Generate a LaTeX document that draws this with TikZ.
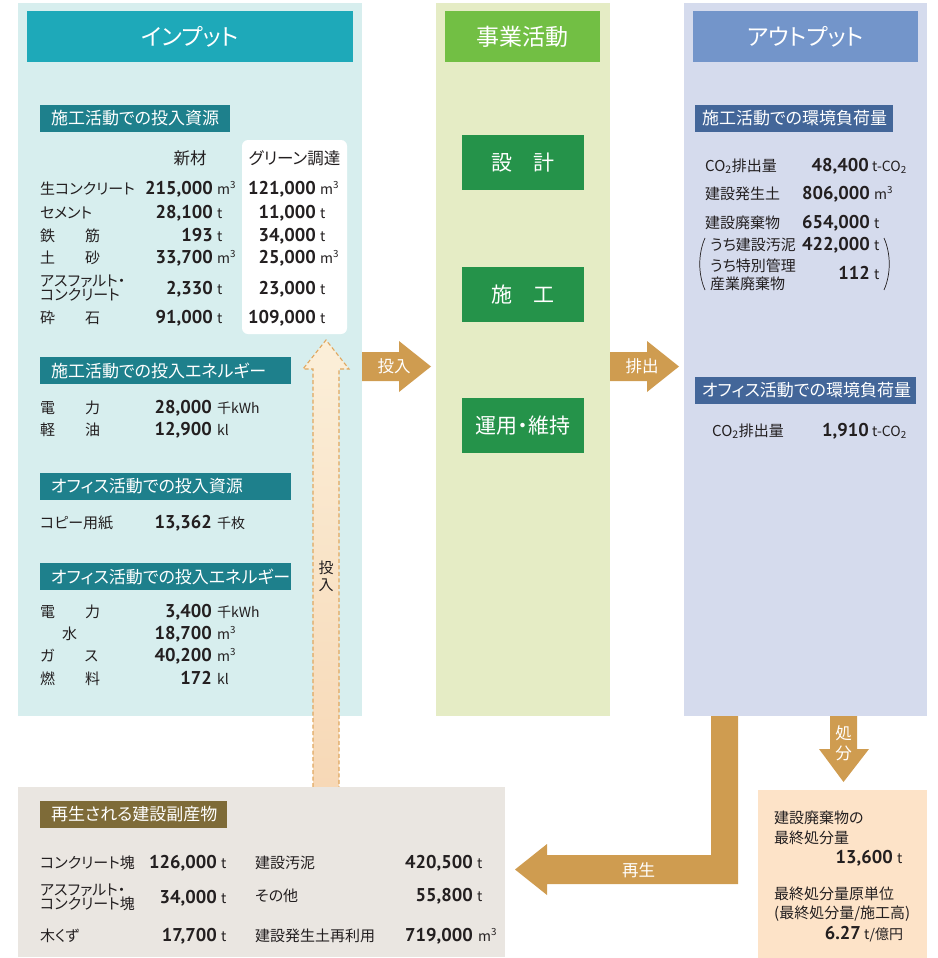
\documentclass[tikz,border=0pt]{standalone}
\usepackage{fontspec}
\setmainfont{Noto Sans CJK JP}[RawFeature=+palt]
\newfontfamily\numfont{PT Sans}
\definecolor{cInBg}{HTML}{D7EEEE}
\definecolor{cInHead}{HTML}{1EA9B9}
\definecolor{cInTag}{HTML}{1E808C}
\definecolor{cMidBg}{HTML}{E5ECC5}
\definecolor{cMidHead}{HTML}{72BF44}
\definecolor{cMidBox}{HTML}{25934A}
\definecolor{cOutBg}{HTML}{D5DBED}
\definecolor{cOutHead}{HTML}{7395CA}
\definecolor{cOutTag}{HTML}{436699}
\definecolor{cArrow}{HTML}{CF9C50}
\definecolor{cByBg}{HTML}{EAE6E1}
\definecolor{cByTag}{HTML}{7E6B38}
\definecolor{cFinal}{HTML}{FDE3C8}
\definecolor{cDash}{HTML}{E0A75F}
\definecolor{cDashTop}{HTML}{FBEFD9}
\definecolor{cDashBot}{HTML}{F7D8B6}
\definecolor{cText}{HTML}{231F20}
\begin{document}
\begin{tikzpicture}[x=1pt,y=-1pt]
    \tikzstyle{panel}=[inner sep=0pt, outer sep=0pt]
    \tikzstyle{head}=[panel, minimum height=51pt, text=white, font=\fontsize{23}{25}\selectfont]
    \tikzstyle{tag}=[panel, anchor=west, minimum height=27pt, inner xsep=11pt, align=left, text=white, font=\fontsize{17}{19}\selectfont]
    \tikzstyle{work}=[panel, fill=cMidBox, minimum width=122pt, minimum height=55pt, text=white, font=\fontsize{21}{23}\selectfont]
    \tikzstyle{lab}=[inner sep=0pt, anchor=base west, text=cText, font=\fontsize{15}{14}\selectfont]
    \tikzstyle{num}=[inner sep=0pt, anchor=base east, text=cText, font=\numfont\fontsize{18.5}{20}\selectfont\bfseries]
    \tikzstyle{unit}=[inner sep=0pt, anchor=base west, text=cText, font=\fontsize{14}{14}\selectfont]
    \tikzstyle{barrow}=[fill=cArrow]
    \tikzstyle{alab}=[inner sep=0pt, text=white, font=\fontsize{16.5}{20}\selectfont, align=center]
    \useasboundingbox (0,0) rectangle (937,958);

    % panels
    \node[panel, fill=cInBg, minimum width=344pt, minimum height=713pt] (input) at (190,359.5) {};
    \node[panel, fill=cMidBg, minimum width=174pt, minimum height=713pt] (business) at (523,359.5) {};
    \node[panel, fill=cOutBg, minimum width=243pt, minimum height=713pt] (output) at (805.5,359.5) {};
    \node[head, fill=cInHead, minimum width=326pt] (inhead) at (190,36.5) {インプット};
    \node[head, fill=cMidHead, minimum width=155pt] (midhead) at (522.5,36.5) {事業活動};
    \node[head, fill=cOutHead, minimum width=225pt] (outhead) at (805.5,36.5) {アウトプット};

    % arrows
    \fill[barrow] (362,352) -- (399,352) -- (399,341) -- (431,366.5) -- (399,392) -- (399,381) -- (362,381) -- cycle;
    \fill[barrow] (610,352) -- (647,352) -- (647,341) -- (679,366.5) -- (647,392) -- (647,381) -- (610,381) -- cycle;
    \fill[barrow] (830,716) -- (857,716) -- (857,749) -- (869,749) -- (843.5,782) -- (819,749) -- (830,749) -- cycle;
    \fill[barrow] (711,716) -- (738,716) -- (738,884) -- (547,884) -- (547,895) -- (515,869.5) -- (547,844) -- (547,855) -- (711,855) -- cycle;
    \draw[cDash, line width=1.1pt, dash pattern=on 4pt off 2.5pt, top color=cDashTop, bottom color=cDashBot]
      (313,787) -- (313,369) -- (303,369) -- (326,340) -- (349,369) -- (339,369) -- (339,787);
    \node[alab] (inlab) at (394,366.5) {投入};
    \node[alab] (outlab) at (642,366.5) {排出};
    \node[alab] (displab) at (843.5,743) {処\\分};
    \node[alab] (recylab) at (638.5,870) {再生};
    \node[alab, text=cText, font=\fontsize{15}{16.5}\selectfont] (backlab) at (326,576.5) {投\\入};

    % business
    \node[work] (design) at (523,162.5) {設\hspace{1em}計};
    \node[work] (build) at (523,294.5) {施\hspace{1em}工};
    \node[work] (operate) at (523,425.5) {運用・維持};

    % input
    \node[tag, fill=cInTag, text width=168pt] (inres) at (40,118.5) {施工活動での投入資源};
    \node[panel, fill=white, rounded corners=6pt, minimum width=105pt, minimum height=194pt] (green) at (294.5,237) {};
    \node[lab, anchor=base, font=\fontsize{16.5}{16}\selectfont] (hnew) at (190,164) {新材};
    \node[lab, anchor=base, font=\fontsize{16.5}{16}\selectfont] (hgreen) at (294.5,164) {グリーン調達};
    \node[lab] (lconc) at (40,194) {生コンクリート};
    \node[num] (nconc) at (213,194) {215,000};
    \node[unit] (unconc) at (217,194) {m\textsuperscript{3}};
    \node[num] (gconc) at (316,194) {121,000};
    \node[unit] (ugconc) at (320,194) {m\textsuperscript{3}};
    \node[lab] (lcem) at (40,218) {セメント};
    \node[num] (ncem) at (213,218) {28,100};
    \node[unit] (uncem) at (217,218) {t};
    \node[num] (gcem) at (316,218) {11,000};
    \node[unit] (ugcem) at (320,218) {t};
    \node[lab] (lsteel) at (40,241) {鉄\hspace{30pt}筋};
    \node[num] (nsteel) at (213,241) {193};
    \node[unit] (unsteel) at (217,241) {t};
    \node[num] (gsteel) at (316,241) {34,000};
    \node[unit] (ugsteel) at (320,241) {t};
    \node[lab] (lsoil) at (40,263) {土\hspace{30pt}砂};
    \node[num] (nsoil) at (213,263) {33,700};
    \node[unit] (unsoil) at (217,263) {m\textsuperscript{3}};
    \node[num] (gsoil) at (316,263) {25,000};
    \node[unit] (ugsoil) at (320,263) {m\textsuperscript{3}};
    \node[lab, anchor=west, align=left] (lasph) at (40,288.5) {アスファルト・\\コンクリート};
    \node[num] (nasph) at (213,294) {2,330};
    \node[unit] (unasph) at (217,294) {t};
    \node[num] (gasph) at (316,294) {23,000};
    \node[unit] (ugasph) at (320,294) {t};
    \node[lab] (lstone) at (40,323) {砕\hspace{30pt}石};
    \node[num] (nstone) at (213,323) {91,000};
    \node[unit] (unstone) at (217,323) {t};
    \node[num] (gstone) at (316,323) {109,000};
    \node[unit] (ugstone) at (320,323) {t};

    \node[tag, fill=cInTag, text width=229pt] (inene) at (40,370.5) {施工活動での投入エネルギー};
    \node[lab] (lpow) at (40,413) {電\hspace{30pt}力};
    \node[num] (npow) at (212,413) {28,000};
    \node[unit] (upow) at (217,413) {千kWh};
    \node[lab] (loil) at (40,435) {軽\hspace{30pt}油};
    \node[num] (noil) at (212,435) {12,900};
    \node[unit] (uoil) at (217,435) {kl};

    \node[tag, fill=cInTag, text width=229pt] (offres) at (40,486.5) {オフィス活動での投入資源};
    \node[lab] (lpaper) at (40,528) {コピー用紙};
    \node[num] (npaper) at (212,528) {13,362};
    \node[unit] (upaper) at (217,528) {千枚};

    \node[tag, fill=cInTag, text width=229pt] (offene) at (40,576.5) {オフィス活動での投入エネルギー};
    \node[lab] (lopow) at (40,617) {電\hspace{30pt}力};
    \node[num] (nopow) at (212,617) {3,400};
    \node[unit] (uopow) at (217,617) {千kWh};
    \node[lab] (lwater) at (62,639) {水};
    \node[num] (nwater) at (212,639) {18,700};
    \node[unit] (uwater) at (217,639) {m\textsuperscript{3}};
    \node[lab] (lgas) at (40,661) {ガ\hspace{30pt}ス};
    \node[num] (ngas) at (212,661) {40,200};
    \node[unit] (ugas) at (217,661) {m\textsuperscript{3}};
    \node[lab] (lfuel) at (40,684) {燃\hspace{30pt}料};
    \node[num] (nfuel) at (212,684) {172};
    \node[unit] (ufuel) at (217,684) {kl};

    % output
    \node[tag, fill=cOutTag, inner xsep=7pt, text width=184pt] (outcon) at (695,118.5) {施工活動での環境負荷量};
    \node[lab] (lco) at (705,171) {CO\textsubscript{2}排出量};
    \node[num] (nco) at (869,171) {48,400};
    \node[unit] (uco) at (872,171) {t-CO\textsubscript{2}};
    \node[lab] (lsurp) at (705,199) {建設発生土};
    \node[num] (nsurp) at (870,199) {806,000};
    \node[unit] (usurp) at (874,199) {m\textsuperscript{3}};
    \node[lab] (lwaste) at (705,228) {建設廃棄物};
    \node[num] (nwaste) at (870,228) {654,000};
    \node[unit] (uwaste) at (874,228) {t};
    \node[lab] (lsludge) at (710,250) {うち建設汚泥};
    \node[num] (nsludge) at (870,250) {422,000};
    \node[unit] (usludge) at (874,250) {t};
    \node[lab] (lspec) at (710,271) {うち特別管理};
    \node[lab] (lspec2) at (710,289) {産業廃棄物};
    \node[num] (nspec) at (870,279) {112};
    \node[unit] (uspec) at (874,279) {t};
    \draw[cText, line width=0.7pt] (705,238) .. controls (698,254) and (698,274) .. (705,290);
    \draw[cText, line width=0.7pt] (884,238) .. controls (891,254) and (891,274) .. (884,290);
    \node[tag, fill=cOutTag, inner xsep=7pt, text width=207pt] (outoff) at (695,390) {オフィス活動での環境負荷量};
    \node[lab] (loco) at (712,436) {CO\textsubscript{2}排出量};
    \node[num] (noco) at (869,436) {1,910};
    \node[unit] (uoco) at (872,436) {t-CO\textsubscript{2}};

    % byproducts
    \node[panel, fill=cByBg, minimum width=487pt, minimum height=170pt] (byproduct) at (261.5,872) {};
    \node[tag, fill=cByTag, text width=165pt] (bytag) at (40,814.5) {再生される建設副産物};
    \node[lab] (lblock) at (40,868) {コンクリート塊};
    \node[num] (nblock) at (217,868) {126,000};
    \node[unit] (ublock) at (221,868) {t};
    \node[lab, anchor=west, align=left] (lablock) at (40,897.5) {アスファルト・\\コンクリート塊};
    \node[num] (nablock) at (217,903) {34,000};
    \node[unit] (uablock) at (221,903) {t};
    \node[lab] (lwood) at (40,941) {木くず};
    \node[num] (nwood) at (217,941) {17,700};
    \node[unit] (uwood) at (221,941) {t};
    \node[lab] (lbsludge) at (255,868) {建設汚泥};
    \node[num] (nbsludge) at (473,868) {420,500};
    \node[unit] (ubsludge) at (477,868) {t};
    \node[lab] (lother) at (255,901) {その他};
    \node[num] (nother) at (473,901) {55,800};
    \node[unit] (uother) at (477,901) {t};
    \node[lab] (lreuse) at (255,941) {建設発生土再利用};
    \node[num] (nreuse) at (473,941) {719,000};
    \node[unit] (ureuse) at (478,941) {m\textsuperscript{3}};

    % final disposal
    \node[panel, fill=cFinal, minimum width=169pt, minimum height=168pt] (final) at (842.5,874) {};
    \node[lab] (lfin1) at (774,823) {建設廃棄物の};
    \node[lab] (lfin2) at (774,843) {最終処分量};
    \node[num] (nfin) at (893,863) {13,600};
    \node[unit] (ufin) at (897,863) {t};
    \node[lab] (lrate1) at (774,899) {最終処分量原単位};
    \node[lab] (lrate2) at (774,918) {(最終処分量/施工高)};
    \node[num] (nrate) at (861,939) {6.27};
    \node[unit] (urate) at (864,939) {t/億円};
\end{tikzpicture}
\end{document}
